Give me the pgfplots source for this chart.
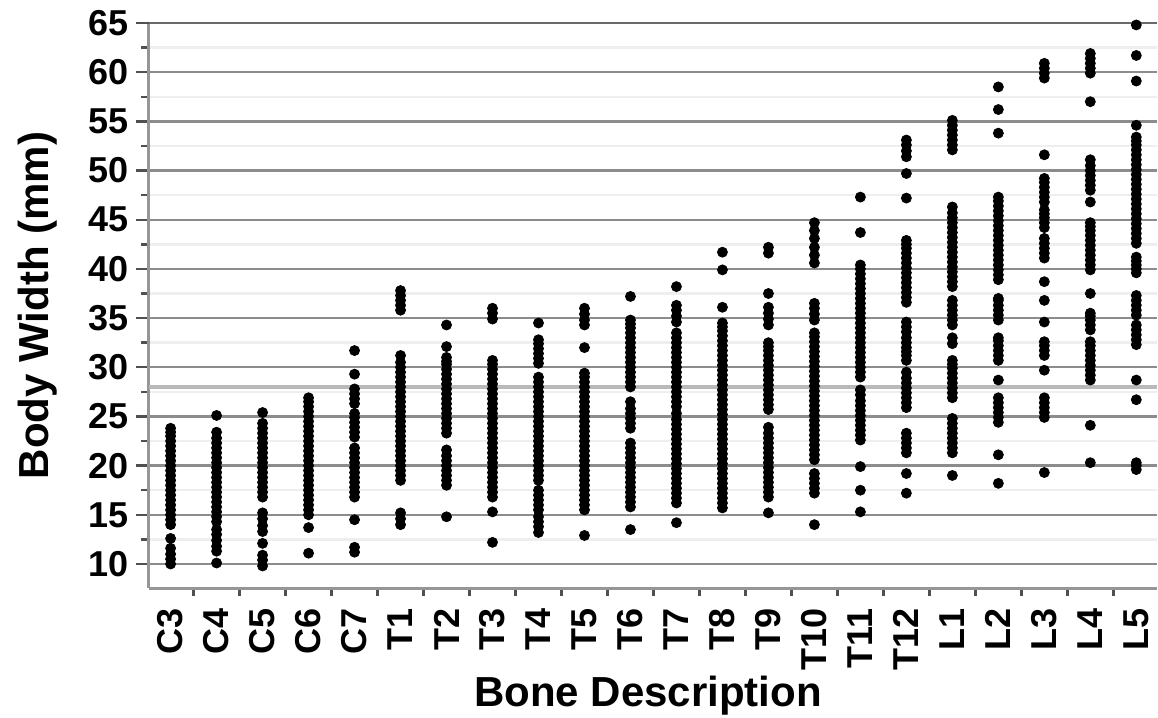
\documentclass[border=0pt]{standalone}
\usepackage{pgfplots}
\pgfplotsset{compat=1.18}
\usepackage{fontspec}
\setmainfont{Liberation Sans}
\definecolor{majgrid}{RGB}{140,140,140}
\definecolor{topgrid}{RGB}{105,105,105}
\definecolor{mingrid}{RGB}{238,238,238}
\definecolor{axgray}{RGB}{150,150,150}
\definecolor{tickgray}{RGB}{80,80,80}
\definecolor{meangray}{RGB}{185,185,185}
\begin{document}
\begin{tikzpicture}
\begin{axis}[
  at={(0,0)}, anchor=south west,
  scale only axis, width=504pt, height=282.5pt,
  xmin=-0.47, xmax=21.45, ymin=7.56, ymax=65,
  axis x line*=bottom, axis y line*=left,
  axis line style={-, draw=axgray, line width=1.5pt},
  ytick={10,15,...,60},
  extra y ticks={65},
  extra y tick style={major grid style={topgrid, line width=1.3pt}},
  minor ytick={12.5,17.5,...,62.5},
  ymajorgrids, yminorgrids,
  major grid style={majgrid, line width=1.2pt},
  minor grid style={mingrid, line width=1.2pt},
  tick align=outside,
  major tick length=6.5pt, minor tick length=4pt,
  tick style={tickgray, line width=1.2pt},
  xtick={0,...,21},
  xticklabels={C3,C4,C5,C6,C7,T1,T2,T3,T4,T5,T6,T7,T8,T9,T10,T11,T12,L1,L2,L3,L4,L5},
  minor x tick num=1,
  major x tick style={draw=none},
  x tick label style={rotate=90, anchor=east, font=\bfseries\fontsize{18}{18}\selectfont},
  y tick label style={font=\bfseries\fontsize{18}{18}\selectfont},
  /pgf/number format/assume math mode=true,
  xlabel={Bone Description}, ylabel={Body Width (mm)},
  label style={font=\bfseries\fontsize{21}{21}\selectfont},
  xlabel style={at={(axis description cs:0.495,-0.19)}, anchor=center},
  ylabel style={at={(axis description cs:-0.110,0.5)}, anchor=center},
]
\addplot[meangray, line width=1.6pt, forget plot] coordinates {(-0.47,28.0)(21.45,28.0)};
\addplot[only marks, mark=*, mark size=2.5pt, black, mark options={fill=black}] coordinates {
(0,10.0)(0,10.5)(0,11.0)(0,11.6)(0,12.6)(0,14.0)(0,14.5)(0,15.0)(0,15.5)(0,16.0)(0,16.5)(0,17.0)(0,17.5)(0,18.0)(0,18.5)(0,19.0)(0,19.5)(0,20.0)(0,20.5)(0,21.0)(0,21.5)(0,22.0)(0,22.5)(0,23.0)(0,23.4)(0,23.8)
(1,10.1)(1,11.3)(1,11.8)(1,12.4)(1,13.0)(1,13.5)(1,14.3)(1,14.8)(1,15.3)(1,15.8)(1,16.3)(1,16.8)(1,17.3)(1,17.8)(1,18.3)(1,18.8)(1,19.3)(1,19.8)(1,20.3)(1,20.8)(1,21.3)(1,21.8)(1,22.3)(1,22.8)(1,23.4)(1,25.1)
(2,9.8)(2,10.4)(2,10.9)(2,12.1)(2,13.3)(2,13.9)(2,14.6)(2,15.2)(2,16.8)(2,17.3)(2,17.8)(2,18.3)(2,18.8)(2,19.3)(2,19.8)(2,20.3)(2,20.8)(2,21.3)(2,21.8)(2,22.3)(2,22.8)(2,23.3)(2,23.8)(2,24.3)(2,25.4)
(3,11.1)(3,13.7)(3,15.0)(3,15.5)(3,16.0)(3,16.5)(3,17.0)(3,17.5)(3,18.0)(3,18.5)(3,19.0)(3,19.5)(3,20.0)(3,20.5)(3,21.0)(3,21.5)(3,22.0)(3,22.5)(3,23.0)(3,23.5)(3,24.0)(3,24.5)(3,25.0)(3,25.5)(3,26.0)(3,26.5)(3,26.9)
(4,11.2)(4,11.7)(4,14.5)(4,16.8)(4,17.3)(4,17.8)(4,18.3)(4,18.8)(4,19.3)(4,19.8)(4,20.3)(4,20.8)(4,21.3)(4,21.8)(4,22.9)(4,23.4)(4,23.9)(4,24.4)(4,24.9)(4,25.3)(4,26.3)(4,26.8)(4,27.3)(4,27.8)(4,29.3)(4,31.7)
(5,14.0)(5,14.6)(5,15.2)(5,18.5)(5,19.0)(5,19.5)(5,20.0)(5,20.5)(5,21.0)(5,21.5)(5,22.0)(5,22.5)(5,23.0)(5,23.5)(5,24.0)(5,24.5)(5,25.0)(5,25.5)(5,26.0)(5,26.5)(5,27.0)(5,27.5)(5,28.0)(5,28.5)(5,29.0)(5,29.5)(5,30.0)(5,30.5)(5,31.2)(5,35.8)(5,36.3)(5,36.8)(5,37.3)(5,37.8)
(6,14.8)(6,18.0)(6,18.5)(6,19.0)(6,19.5)(6,20.0)(6,20.5)(6,21.0)(6,21.6)(6,23.3)(6,23.8)(6,24.3)(6,24.8)(6,25.3)(6,25.8)(6,26.3)(6,26.8)(6,27.3)(6,27.8)(6,28.3)(6,28.8)(6,29.3)(6,29.8)(6,30.3)(6,30.6)(6,31.0)(6,32.1)(6,34.3)
(7,12.2)(7,15.3)(7,16.8)(7,17.3)(7,17.8)(7,18.3)(7,18.8)(7,19.3)(7,19.8)(7,20.3)(7,20.8)(7,21.3)(7,21.8)(7,22.3)(7,22.8)(7,23.3)(7,23.8)(7,24.3)(7,24.8)(7,25.3)(7,25.8)(7,26.3)(7,26.8)(7,27.3)(7,27.8)(7,28.3)(7,28.8)(7,29.3)(7,29.8)(7,30.3)(7,30.7)(7,34.9)(7,35.5)(7,36.0)
(8,13.2)(8,13.8)(8,14.3)(8,14.8)(8,15.5)(8,16.0)(8,16.5)(8,17.0)(8,17.5)(8,18.5)(8,19.0)(8,19.5)(8,20.0)(8,20.5)(8,21.0)(8,21.5)(8,22.0)(8,22.5)(8,23.0)(8,23.5)(8,24.0)(8,24.5)(8,25.0)(8,25.5)(8,26.0)(8,26.5)(8,27.0)(8,27.5)(8,28.0)(8,28.5)(8,29.0)(8,30.4)(8,30.9)(8,31.4)(8,31.9)(8,32.4)(8,32.8)(8,34.5)
(9,12.9)(9,15.5)(9,16.0)(9,16.5)(9,17.0)(9,17.5)(9,18.0)(9,18.5)(9,19.0)(9,19.5)(9,20.0)(9,20.5)(9,21.0)(9,21.5)(9,22.0)(9,22.5)(9,23.0)(9,23.5)(9,24.0)(9,24.5)(9,25.0)(9,25.5)(9,26.0)(9,26.5)(9,27.0)(9,27.5)(9,28.0)(9,28.5)(9,29.0)(9,29.4)(9,32.0)(9,34.3)(9,34.8)(9,35.4)(9,36.0)
(10,13.5)(10,15.8)(10,16.3)(10,16.8)(10,17.3)(10,17.8)(10,18.3)(10,18.8)(10,19.3)(10,19.8)(10,20.3)(10,20.8)(10,21.3)(10,21.8)(10,22.3)(10,23.8)(10,24.3)(10,24.8)(10,25.3)(10,25.8)(10,26.5)(10,28.0)(10,28.5)(10,29.0)(10,29.5)(10,30.0)(10,30.5)(10,31.0)(10,31.5)(10,32.0)(10,32.5)(10,33.0)(10,33.5)(10,34.0)(10,34.4)(10,34.8)(10,37.2)
(11,14.2)(11,16.2)(11,16.7)(11,17.2)(11,17.7)(11,18.2)(11,18.7)(11,19.2)(11,19.7)(11,20.2)(11,20.7)(11,21.2)(11,21.7)(11,22.2)(11,22.7)(11,23.2)(11,23.7)(11,24.2)(11,24.7)(11,25.3)(11,26.0)(11,26.5)(11,27.0)(11,27.5)(11,28.0)(11,28.5)(11,29.0)(11,29.5)(11,30.0)(11,30.5)(11,31.0)(11,31.5)(11,32.0)(11,32.5)(11,33.0)(11,33.5)(11,34.6)(11,35.2)(11,35.8)(11,36.3)(11,38.2)
(12,15.7)(12,16.2)(12,16.7)(12,17.2)(12,17.7)(12,18.2)(12,18.7)(12,19.2)(12,19.7)(12,20.2)(12,20.7)(12,21.2)(12,21.7)(12,22.2)(12,22.7)(12,23.2)(12,23.7)(12,24.2)(12,24.7)(12,25.2)(12,25.7)(12,26.2)(12,26.7)(12,27.2)(12,27.7)(12,28.2)(12,28.7)(12,29.2)(12,29.7)(12,30.2)(12,30.7)(12,31.2)(12,31.7)(12,32.2)(12,32.7)(12,33.2)(12,33.7)(12,34.1)(12,34.5)(12,36.1)(12,39.9)(12,41.7)
(13,15.2)(13,16.8)(13,17.3)(13,17.8)(13,18.3)(13,18.8)(13,19.3)(13,19.8)(13,20.3)(13,20.8)(13,21.3)(13,21.8)(13,22.3)(13,22.8)(13,23.3)(13,23.9)(13,25.7)(13,26.2)(13,26.7)(13,27.2)(13,27.7)(13,28.2)(13,28.7)(13,29.2)(13,29.7)(13,30.2)(13,30.7)(13,31.2)(13,31.7)(13,32.1)(13,32.5)(13,34.3)(13,34.9)(13,35.5)(13,36.1)(13,37.5)(13,41.6)(13,42.2)
(14,14.0)(14,17.2)(14,17.7)(14,18.2)(14,18.7)(14,19.2)(14,20.6)(14,21.1)(14,21.6)(14,22.1)(14,22.6)(14,23.1)(14,23.6)(14,24.1)(14,24.6)(14,25.1)(14,25.6)(14,26.1)(14,26.6)(14,27.1)(14,27.6)(14,28.1)(14,28.6)(14,29.1)(14,29.6)(14,30.1)(14,30.6)(14,31.1)(14,31.6)(14,32.1)(14,32.6)(14,33.1)(14,33.5)(14,34.8)(14,35.4)(14,36.0)(14,36.5)(14,40.6)(14,41.4)(14,42.2)(14,43.1)(14,43.9)(14,44.7)
(15,15.3)(15,17.5)(15,19.9)(15,22.6)(15,23.1)(15,23.6)(15,24.1)(15,24.6)(15,25.1)(15,25.6)(15,26.1)(15,26.6)(15,27.2)(15,27.7)(15,29.0)(15,29.5)(15,30.0)(15,30.5)(15,31.0)(15,31.5)(15,32.0)(15,32.5)(15,33.0)(15,33.5)(15,34.0)(15,34.5)(15,35.0)(15,35.5)(15,36.0)(15,36.5)(15,37.0)(15,37.5)(15,38.0)(15,38.5)(15,39.0)(15,39.5)(15,40.0)(15,40.4)(15,43.7)(15,47.3)
(16,17.2)(16,19.2)(16,21.3)(16,21.8)(16,22.3)(16,22.8)(16,23.3)(16,25.9)(16,26.4)(16,26.9)(16,27.4)(16,27.9)(16,28.4)(16,28.9)(16,29.5)(16,30.7)(16,31.2)(16,31.6)(16,32.0)(16,32.5)(16,33.0)(16,33.6)(16,34.1)(16,34.6)(16,36.6)(16,37.1)(16,37.6)(16,38.1)(16,38.6)(16,39.1)(16,39.6)(16,40.1)(16,40.6)(16,41.1)(16,41.6)(16,42.1)(16,42.5)(16,42.9)(16,47.2)(16,49.7)(16,51.4)(16,52.0)(16,52.6)(16,53.1)
(17,19.0)(17,21.3)(17,21.8)(17,22.3)(17,22.8)(17,23.3)(17,23.8)(17,24.3)(17,24.8)(17,26.9)(17,27.4)(17,27.9)(17,28.4)(17,28.9)(17,29.4)(17,29.9)(17,30.3)(17,30.7)(17,32.4)(17,33.0)(17,34.3)(17,34.8)(17,35.3)(17,35.8)(17,36.3)(17,36.8)(17,38.2)(17,38.7)(17,39.2)(17,39.7)(17,40.2)(17,40.7)(17,41.2)(17,41.7)(17,42.2)(17,42.7)(17,43.2)(17,43.7)(17,44.2)(17,44.7)(17,45.2)(17,45.7)(17,46.3)(17,52.1)(17,52.6)(17,53.1)(17,53.6)(17,54.1)(17,54.6)(17,55.1)
(18,18.2)(18,21.1)(18,24.4)(18,24.9)(18,25.4)(18,25.9)(18,26.4)(18,26.9)(18,28.7)(18,30.7)(18,31.2)(18,31.7)(18,32.2)(18,32.7)(18,33.0)(18,34.8)(18,35.3)(18,35.8)(18,36.3)(18,36.8)(18,37.0)(18,38.9)(18,39.4)(18,39.9)(18,40.4)(18,40.9)(18,41.4)(18,41.9)(18,42.4)(18,42.9)(18,43.4)(18,43.9)(18,44.4)(18,44.9)(18,45.4)(18,45.9)(18,46.4)(18,46.9)(18,47.3)(18,53.8)(18,56.2)(18,58.5)
(19,19.3)(19,24.9)(19,25.4)(19,25.9)(19,26.4)(19,26.9)(19,29.7)(19,31.2)(19,31.7)(19,32.2)(19,32.6)(19,34.6)(19,36.8)(19,38.7)(19,41.1)(19,41.6)(19,42.1)(19,42.6)(19,43.1)(19,44.2)(19,44.7)(19,45.2)(19,45.6)(19,46.0)(19,46.8)(19,47.3)(19,47.8)(19,48.3)(19,48.8)(19,49.2)(19,51.6)(19,59.4)(19,59.9)(19,60.4)(19,60.9)
(20,20.3)(20,24.1)(20,28.7)(20,29.2)(20,29.7)(20,30.2)(20,30.7)(20,31.2)(20,31.7)(20,32.2)(20,32.6)(20,33.8)(20,34.3)(20,34.8)(20,35.2)(20,35.5)(20,37.5)(20,39.9)(20,40.4)(20,40.9)(20,41.4)(20,41.9)(20,42.4)(20,42.9)(20,43.4)(20,43.9)(20,44.3)(20,44.7)(20,46.8)(20,48.0)(20,48.5)(20,49.0)(20,49.5)(20,50.0)(20,50.5)(20,51.1)(20,57.0)(20,59.9)(20,60.4)(20,60.9)(20,61.4)(20,61.9)
(21,19.6)(21,20.0)(21,20.3)(21,26.7)(21,28.7)(21,32.3)(21,32.8)(21,33.3)(21,33.8)(21,34.3)(21,35.3)(21,35.8)(21,36.3)(21,36.8)(21,37.3)(21,39.6)(21,40.0)(21,40.4)(21,40.8)(21,41.2)(21,42.6)(21,43.1)(21,43.6)(21,44.1)(21,44.6)(21,45.1)(21,45.6)(21,46.1)(21,46.6)(21,47.1)(21,47.6)(21,48.1)(21,48.6)(21,49.1)(21,49.6)(21,50.1)(21,50.6)(21,51.1)(21,51.6)(21,52.1)(21,52.6)(21,53.0)(21,53.4)(21,54.6)(21,59.1)(21,61.7)(21,64.8)
};
\end{axis}
\pgfresetboundingbox
\path[use as bounding box] (-74.5pt,-65pt) rectangle (504.5pt,294pt);
\end{tikzpicture}
\end{document}
